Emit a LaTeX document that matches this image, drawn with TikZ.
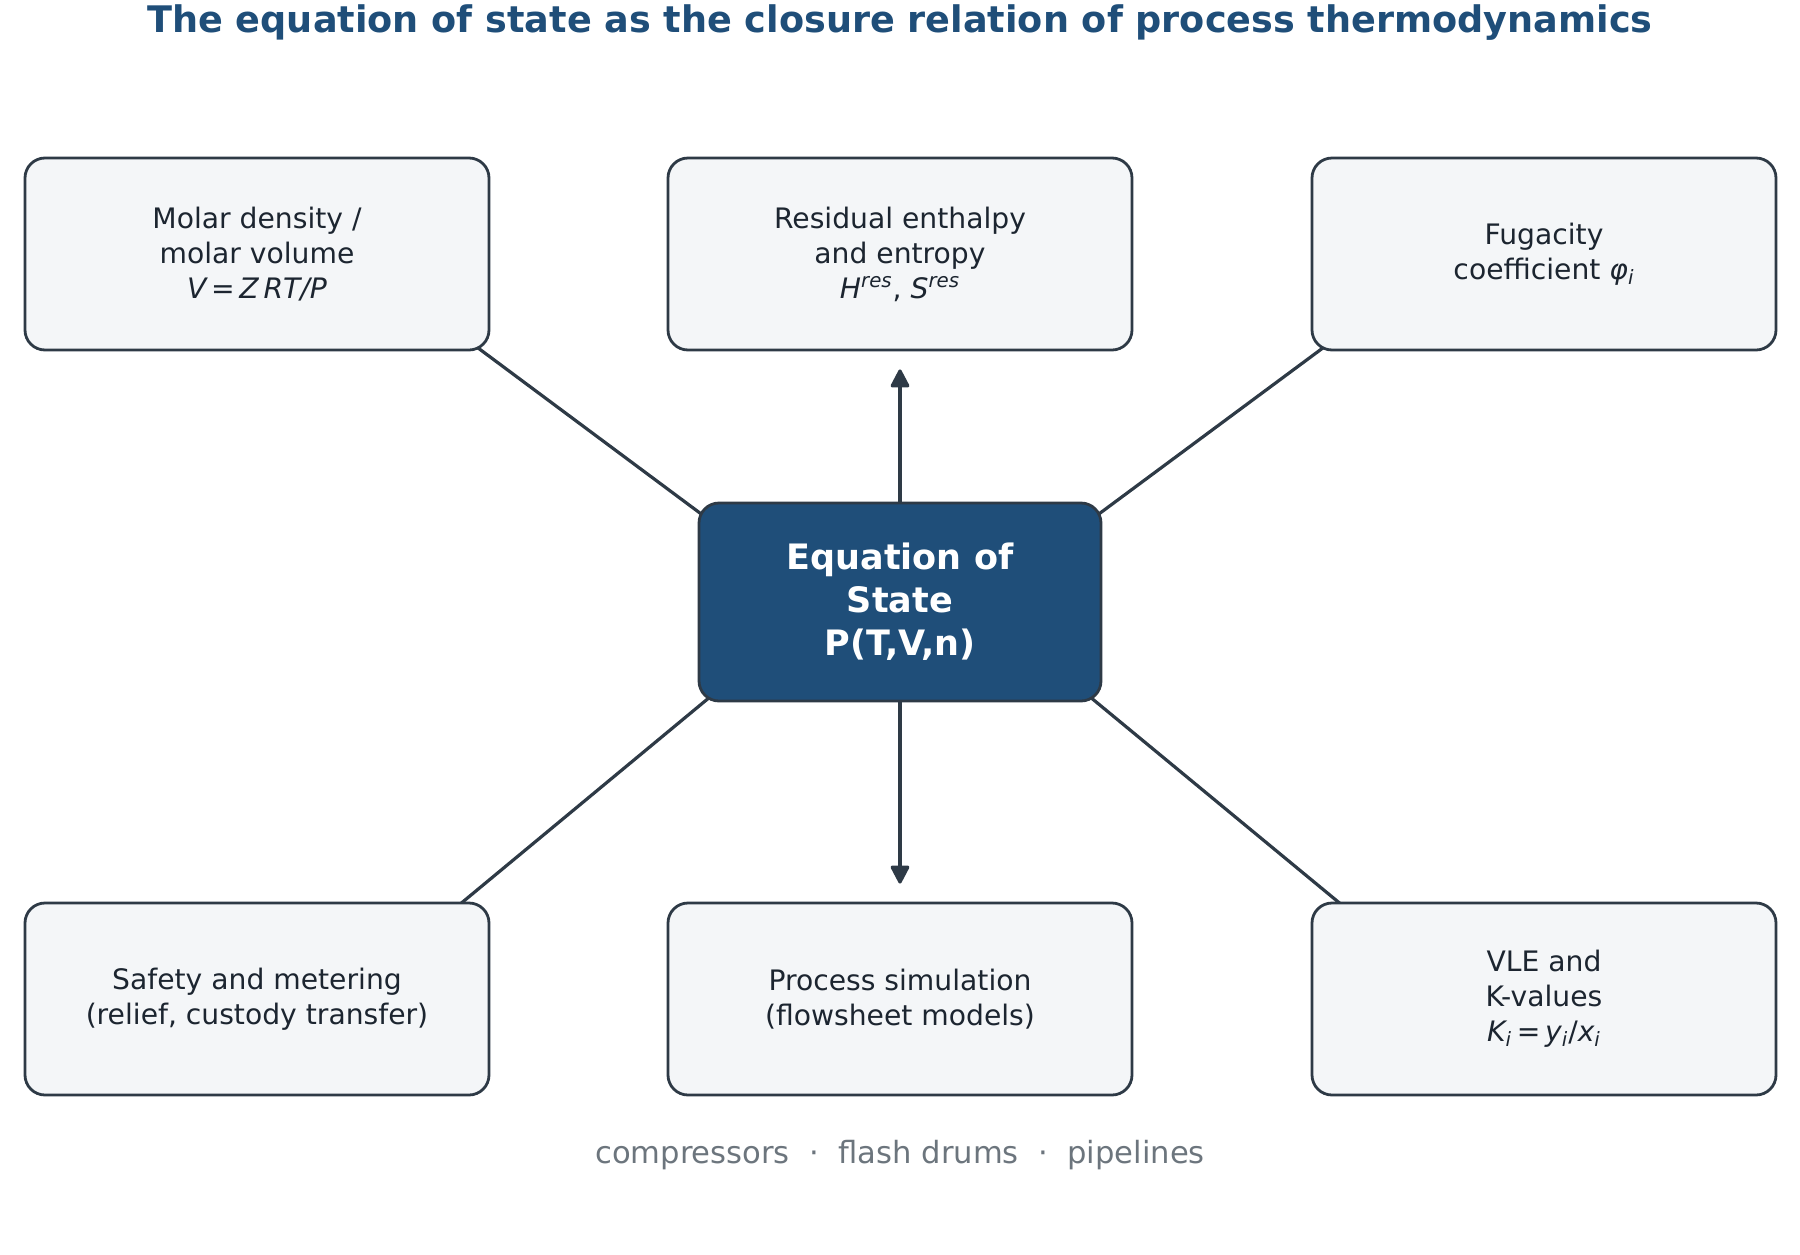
\documentclass[tikz,border=0pt]{standalone}
\usepackage{fontspec}
\setmainfont{DejaVu Sans}
\usetikzlibrary{arrows.meta,calc}
\definecolor{eosblue}{HTML}{1F4E79}
\definecolor{edge}{HTML}{2E3A46}
\definecolor{boxfill}{HTML}{F4F6F8}
\definecolor{ink}{HTML}{1C2530}
\definecolor{foot}{HTML}{6C757D}
\pgfdeclarelayer{bg}
\pgfsetlayers{bg,main}
\newcommand{\ssub}[1]{\textsubscript{\itshape #1}}
\newcommand{\ssup}[1]{\textsuperscript{\itshape #1}}

\begin{document}
\begin{tikzpicture}[x=0.5pt,y=-0.5pt,
  outer/.style={draw=edge,line width=1.4pt,fill=boxfill,rounded corners=10pt,
    minimum width=232pt,minimum height=96pt,align=center,text=ink,
    font=\fontsize{14.1}{17.5}\selectfont},
  core/.style={draw=edge,line width=1.4pt,fill=eosblue,rounded corners=10pt,
    minimum width=201pt,minimum height=99pt,align=center,text=white,
    font=\fontsize{17.5}{21.5}\selectfont\bfseries},
  link/.style={draw=edge,line width=1.6pt},
  feed/.style={link,-{Triangle[length=10pt,width=10pt,round]},shorten >=9pt}]

\useasboundingbox (0,0) rectangle (1800,1254);

\node[font=\fontsize{18.3}{22}\selectfont\bfseries,text=eosblue] (title) at (900,23)
  {The equation of state as the closure relation of process thermodynamics};

\node[core] (eos) at (900,602) {Equation of\\State\\P(T,V,n)};

\node[outer] (dens) at (257,254) {Molar density /\\molar volume\\{\itshape V\,=\,Z\,RT/P}};
\node[outer] (resid) at (900,254) {Residual enthalpy\\and entropy\\{\itshape H}\ssup{res}, {\itshape S}\ssup{res}};
\node[outer] (fug) at (1544,254) {Fugacity\\coefficient {\itshape φ}\ssub{i}};
\node[outer] (safe) at (257,999) {Safety and metering\\(relief, custody transfer)};
\node[outer] (sim) at (900,999) {Process simulation\\(flowsheet models)};
\node[outer] (vle) at (1544,999) {VLE and\\K-values\\{\itshape K}\ssub{i}\,=\,{\itshape y}\ssub{i}/{\itshape x}\ssub{i}};

\begin{pgfonlayer}{bg}
\draw[link] ($(dens.south east)+(-40,-24)$) -- ($(eos.north west)+(30,32)$);
\draw[link] ($(fug.south west)+(40,-24)$) -- ($(eos.north east)+(-30,32)$);
\draw[link] ($(eos.south west)+(36,-25)$) -- ($(safe.north east)+(-49,18)$);
\draw[link] ($(eos.south east)+(-36,-25)$) -- ($(vle.north west)+(49,18)$);
\end{pgfonlayer}

\draw[feed] (eos.north) -- (resid.south);
\draw[feed] (eos.south) -- (sim.north);

\node[text=foot,font=\fontsize{15.3}{18}\selectfont] (tags) at (900,1155)
  {compressors\ \ ·\ \ flash drums\ \ ·\ \ pipelines};

\end{tikzpicture}
\end{document}
